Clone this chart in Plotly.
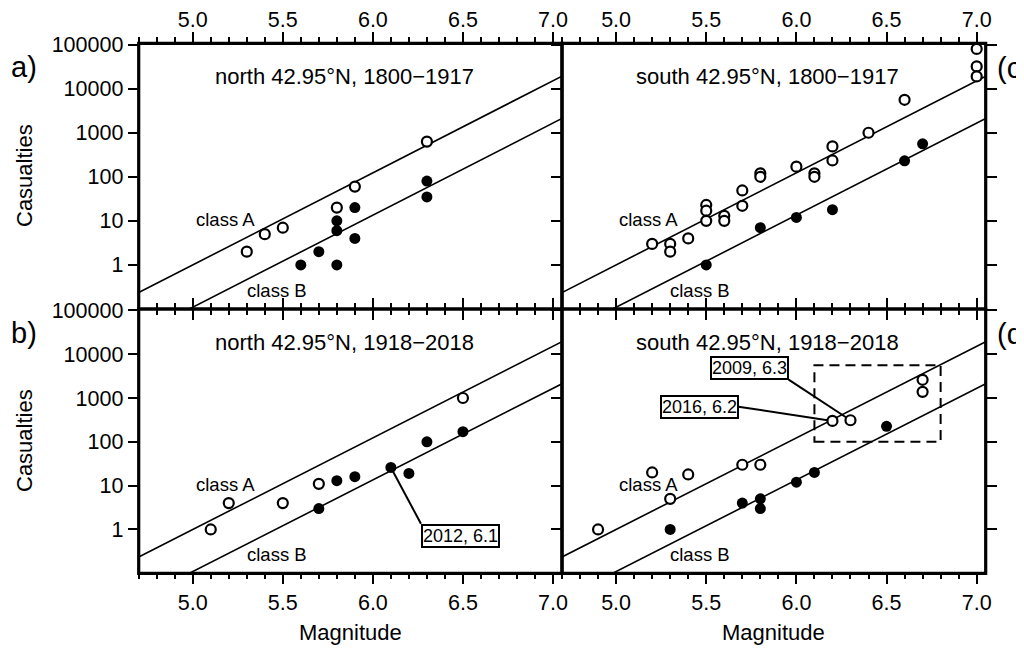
import numpy as np
import plotly.graph_objects as go

# ---------------- data ----------------
# panel a) north, 1800-1917
a_open_M = [5.3, 5.4, 5.5, 5.8, 5.9, 6.3]
a_open_C = [2, 5, 7, 20, 60, 630]
a_fill_M = [5.6, 5.7, 5.8, 5.8, 5.8, 5.9, 5.9, 6.3, 6.3]
a_fill_C = [1, 2, 10, 6, 1, 20, 4, 80, 35]

# panel b) north, 1918-2018
b_open_M = [5.1, 5.2, 5.5, 5.7, 6.5]
b_open_C = [1, 4, 4, 11, 1000]
b_fill_M = [5.7, 5.8, 5.9, 6.1, 6.2, 6.3, 6.5]
b_fill_C = [3, 13, 16, 26, 19, 100, 170]

# panel c) south, 1800-1917
c_open_M = [5.2, 5.3, 5.3, 5.4, 5.5, 5.5, 5.5, 5.6, 5.6, 5.7, 5.7, 5.8, 5.8,
            6.0, 6.1, 6.1, 6.2, 6.2, 6.4, 6.6, 7.0, 7.0, 7.0]
c_open_C = [3, 3, 2, 4, 23, 17, 10, 13, 10, 49, 22, 120, 100,
            170, 120, 100, 490, 235, 1000, 5600, 80000, 32000, 19000]
c_fill_M = [5.5, 5.8, 6.0, 6.2, 6.6, 6.7]
c_fill_C = [1, 7, 12, 18, 230, 560]

# panel d) south, 1918-2018
d_open_M = [4.9, 5.2, 5.3, 5.4, 5.7, 5.8, 6.2, 6.3, 6.7, 6.7]
d_open_C = [1, 20, 5, 18, 30, 30, 300, 310, 2600, 1380]
d_fill_M = [5.3, 5.7, 5.8, 5.8, 6.0, 6.1, 6.5]
d_fill_C = [1, 4, 5, 3, 12, 20, 225]

# class lines: log10(C) = slope*(M - M0) + offset
line_slope = 2.09
line_M0 = 5.0
classA_offset = 0.0
classB_offset = -0.96
line_M = [4.7, 7.05]

panel_titles = {
    "a": "north 42.95°N, 1800−1917",
    "c": "south 42.95°N, 1800−1917",
    "b": "north 42.95°N, 1918−2018",
    "d": "south 42.95°N, 1918−2018",
}

# callouts: (panel, event M, event C, label M, label C, text, xanchor, yanchor)
callouts = [
    ("b", 6.1, 26, 6.267, 1.35, "2012, 6.1", "left", "top"),
    ("d", 6.3, 310, 5.957, 2630, "2009, 6.3", "right", "bottom"),
    ("d", 6.2, 300, 5.679, 631, "2016, 6.2", "right", "middle"),
]
# dashed box in panel d (magnitude range, casualty range)
box_M = [6.1, 6.8]
box_C = [100, 5600]

x_ticks = [5.0, 5.5, 6.0, 6.5, 7.0]
y_tickvals = [1, 10, 100, 1000, 10000, 100000]
y_ticktext = ["1", "10", "100", "1000", "10000", "100000"]

# ---------------- layout geometry ----------------
# page body has an 8px margin: figure is placed at (8, 8) in the window
OFF = 8
W, H = 1024 - OFF, 650 - OFF
FONT = "Liberation Sans, Arial, Helvetica, sans-serif"


def fx(px):
    return (px - OFF) / W


def fy(py):
    return 1 - (py - OFF) / H


xL = [fx(138.7), fx(562)]
xR = [fx(562), fx(985.7)]
yT = [fy(309), fy(43.3)]
yB = [fy(573.3), fy(309)]

panels = {
    # key: (xaxis name, yaxis name, xdomain, ydomain, is_top, is_left)
    "a": ("x", "y", xL, yT, True, True),
    "c": ("x2", "y2", xR, yT, True, False),
    "b": ("x3", "y3", xL, yB, False, True),
    "d": ("x4", "y4", xR, yB, False, False),
}
data = {
    "a": (a_open_M, a_open_C, a_fill_M, a_fill_C),
    "c": (c_open_M, c_open_C, c_fill_M, c_fill_C),
    "b": (b_open_M, b_open_C, b_fill_M, b_fill_C),
    "d": (d_open_M, d_open_C, d_fill_M, d_fill_C),
}

fig = go.Figure()
annotations = []
shapes = []

lm = np.array(line_M)
lineA = 10 ** (line_slope * (lm - line_M0) + classA_offset)
lineB = 10 ** (line_slope * (lm - line_M0) + classB_offset)

for key, (xa, ya, xd, yd, top, left) in panels.items():
    om, oc, fm, fc = data[key]
    # class lines
    for ly in (lineA, lineB):
        fig.add_trace(go.Scatter(x=line_M, y=ly, mode="lines", xaxis=xa, yaxis=ya,
                                 line=dict(color="black", width=1.6),
                                 showlegend=False, hoverinfo="skip"))
    # leader lines
    for (p, em, ec, lxm, lyc, txt, xan, yan) in callouts:
        if p != key:
            continue
        fig.add_trace(go.Scatter(x=[em, lxm], y=[ec, lyc], mode="lines", xaxis=xa, yaxis=ya,
                                 line=dict(color="black", width=2),
                                 showlegend=False, hoverinfo="skip"))
        annotations.append(dict(x=lxm, y=np.log10(lyc), xref=xa, yref=ya, text=txt,
                                showarrow=False, xanchor=xan, yanchor=yan,
                                font=dict(family=FONT, size=18, color="black"),
                                bgcolor="white", bordercolor="black", borderwidth=2,
                                borderpad=0))
    # markers
    fig.add_trace(go.Scatter(x=fm, y=fc, mode="markers", xaxis=xa, yaxis=ya,
                             marker=dict(symbol="circle", size=11, color="black",
                                         line=dict(width=0)),
                             showlegend=False, cliponaxis=False))
    fig.add_trace(go.Scatter(x=om, y=oc, mode="markers", xaxis=xa, yaxis=ya,
                             marker=dict(symbol="circle", size=10, color="white",
                                         line=dict(color="black", width=2.2)),
                             showlegend=False, cliponaxis=False))

    # axes
    xsfx = xa[1:]
    ysfx = ya[1:]
    xaxis = dict(domain=xd, anchor=ya, range=[4.7, 7.05], tickvals=x_ticks,
                 tickformat=".1f", ticks="outside", ticklen=10, tickwidth=1.5,
                 tickcolor="black", showline=False, showgrid=False, zeroline=False,
                 mirror="ticks", side="top" if top else "bottom", automargin=False,
                 ticklabelstandoff=-3 if top else 0,
                 tickfont=dict(family=FONT, size=21.5, color="black"),
                 minor=dict(tick0=5.0, dtick=0.1, ticks="outside", ticklen=5,
                            tickwidth=1.5, tickcolor="black", showgrid=False))
    yaxis = dict(domain=yd, anchor=xa, type="log", range=[-1, 5.03],
                 tickvals=y_tickvals, ticktext=y_ticktext, ticks="outside",
                 ticklen=10, tickwidth=1.5, tickcolor="black", showline=False,
                 showgrid=False, zeroline=False, automargin=False,
                 mirror=False if left else "ticks", showticklabels=left,
                 tickfont=dict(family=FONT, size=21.5, color="black"))
    fig.update_layout(**{"xaxis" + xsfx: xaxis, "yaxis" + ysfx: yaxis})

    # frame
    shapes.append(dict(type="rect", xref=xa + " domain", yref=ya + " domain",
                       x0=0, x1=1, y0=0, y1=1, line=dict(color="black", width=3.2),
                       layer="above"))

    # panel title
    annotations.append(dict(x=5.84, y=4.27, xref=xa, yref=ya, text=panel_titles[key],
                            showarrow=False, xanchor="center", yanchor="middle",
                            font=dict(family=FONT, size=22, color="black")))
    # class labels
    annotations.append(dict(x=5.182, y=1.02, xref=xa, yref=ya, text="class A",
                            showarrow=False, font=dict(family=FONT, size=18.5, color="black")))
    annotations.append(dict(x=5.465, y=-0.57, xref=xa, yref=ya, text="class B",
                            showarrow=False, font=dict(family=FONT, size=18.5, color="black")))

# dashed box in panel d
shapes.append(dict(type="rect", xref="x4", yref="y4", x0=box_M[0], x1=box_M[1],
                   y0=box_C[0], y1=box_C[1],
                   line=dict(color="black", width=2, dash="10px,6px"), layer="above"))

# panel letters
for txt, px, py, xan in [("a)", 23.5, 67, "center"), ("b)", 23.5, 333, "center"),
                         ("(c", 995, 68, "left"), ("(d", 995, 334, "left")]:
    annotations.append(dict(x=fx(px), y=fy(py), xref="paper", yref="paper", text=txt,
                            showarrow=False, xanchor=xan, yanchor="middle",
                            font=dict(family=FONT, size=29, color="black")))

# axis titles
for py in (176, 441):
    annotations.append(dict(x=fx(24), y=fy(py), xref="paper", yref="paper",
                            text="Casualties", textangle=-90, showarrow=False,
                            xanchor="center", yanchor="middle",
                            font=dict(family=FONT, size=22, color="black")))
for px in (350.3, 773.8):
    annotations.append(dict(x=fx(px), y=fy(632), xref="paper", yref="paper",
                            text="Magnitude", showarrow=False,
                            xanchor="center", yanchor="middle",
                            font=dict(family=FONT, size=22, color="black")))

fig.update_layout(width=W, height=H, margin=dict(l=0, r=0, t=0, b=0),
                  paper_bgcolor="white", plot_bgcolor="white",
                  annotations=annotations, shapes=shapes, showlegend=False)

fig.write_html("out.html")
